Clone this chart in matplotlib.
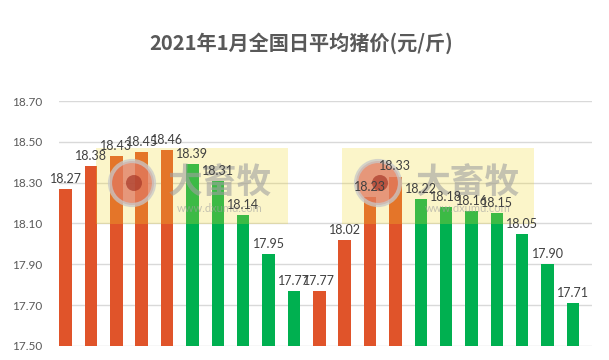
import matplotlib
matplotlib.use("Agg")
import matplotlib.pyplot as plt
from matplotlib.patches import Rectangle, Ellipse

# data
days = list(range(1, 22))
prices = [18.27, 18.38, 18.43, 18.45, 18.46, 18.39, 18.31, 18.14, 17.95, 17.77, 17.77,
          18.02, 18.23, 18.33, 18.22, 18.18, 18.16, 18.15, 18.05, 17.90, 17.71]
up = [True, True, True, True, True, False, False, False, False, False, True,
      True, True, True, False, False, False, False, False, False, False]
yticks = [17.50, 17.70, 17.90, 18.10, 18.30, 18.50, 18.70]

red = "#E0542A"
green = "#00B050"
num_font = ["Lato", "DejaVu Sans"]
cjk_font = ["Noto Sans CJK SC", "DejaVu Sans"]

fig = plt.figure(figsize=(6.09, 3.6), dpi=100)
ax = fig.add_axes([59/609, 14/360, 533/609, 245/360])

x = list(range(len(prices)))
colors = [red if u else green for u in up]
ax.bar(x, [p - 17.5 for p in prices], bottom=17.5, width=0.49, color=colors, zorder=2)
for xi, p in zip(x, prices):
    ax.text(xi, p + 0.02, "%.2f" % p, ha="center", va="bottom", fontsize=9,
            color="#404040", family=num_font, zorder=8)

ax.set_xlim(-0.26, 20.75)
ax.set_ylim(17.5, 18.7)
ax.set_yticks(yticks)
ax.set_yticklabels(["%.2f" % v for v in yticks], family=num_font, fontsize=8.5, color="#595959")
ax.set_xticks([])
ax.tick_params(axis="y", length=0, pad=12)
ax.grid(axis="y", color="#D9D9D9", linewidth=1, zorder=0)
for s in ax.spines.values():
    s.set_visible(False)

fig.text(0.495, 1 - 43/360, "2021年1月全国日平均猪价(元/斤)", ha="center", va="center",
         fontsize=14.5, fontweight="bold", color="#595959", family=cjk_font)

# watermark boxes (drawn between the bars and the value labels)
tf = fig.transFigure
for bx, cx, tx in [(96, 132, 220), (342, 378, 468)]:
    ax.add_patch(Rectangle((bx/609, 136/360), 192/609, 76/360, transform=tf, clip_on=False,
                           facecolor="#F0D828", alpha=0.25, edgecolor="none", zorder=5))
    ax.add_patch(Ellipse((cx/609, 177/360), 44/609, 44/360, transform=tf, clip_on=False,
                         facecolor="#E07860", edgecolor="#C8C8C8", linewidth=3,
                         alpha=0.75, zorder=6))
    ax.add_patch(Ellipse(((cx + 2)/609, 177/360), 16/609, 16/360, transform=tf, clip_on=False,
                         facecolor="#A83828", edgecolor="none", alpha=0.7, zorder=6))
    ax.text(tx/609, 178/360, "大畜牧", transform=tf, ha="center", va="center", fontsize=25,
            fontweight="bold", color="#A0A0A0", alpha=0.6, family=cjk_font, zorder=6)
    ax.text(tx/609, 152/360, "www.dxumu.com", transform=tf, ha="center", va="center",
            fontsize=8, color="#A0A0A0", alpha=0.6, family=num_font, zorder=6)

fig.savefig("out.png", dpi=100)
